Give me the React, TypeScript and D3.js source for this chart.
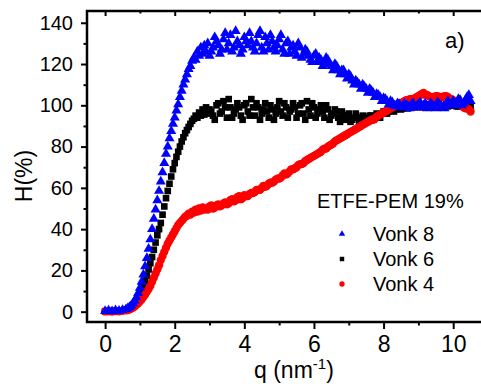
import React, { useRef, useEffect } from 'react';
import * as d3 from 'd3';

// q sampling (nm^-1), denser where the curves climb
const qGrid = [
  0, 0.1, 0.2, 0.3, 0.4, 0.5, 0.6,
  0.65, 0.7, 0.75, 0.8, 0.85, 0.9, 0.95, 1.0, 1.05, 1.1, 1.15, 1.2, 1.25, 1.3, 1.35, 1.4,
  1.45, 1.5, 1.55, 1.6, 1.65, 1.7, 1.75, 1.8, 1.85, 1.9, 1.95, 2.0, 2.05, 2.1, 2.15, 2.2,
  2.25, 2.3, 2.35, 2.4, 2.45, 2.5, 2.55, 2.6, 2.65, 2.7, 2.75, 2.8, 2.85, 2.9, 2.95, 3.0,
  3.1, 3.2, 3.3, 3.4, 3.5, 3.6, 3.7, 3.8, 3.9, 4.0,
  4.1, 4.2, 4.3, 4.4, 4.5, 4.6, 4.7, 4.8, 4.9, 5.0,
  5.1, 5.2, 5.3, 5.4, 5.5, 5.6, 5.7, 5.8, 5.9, 6.0,
  6.1, 6.2, 6.3, 6.4, 6.5, 6.6, 6.7, 6.8, 6.9, 7.0,
  7.1, 7.2, 7.3, 7.4, 7.5, 7.6, 7.7, 7.8, 7.9, 8.0,
  8.1, 8.2, 8.3, 8.4, 8.5, 8.6, 8.7, 8.8, 8.9, 9.0,
  9.1, 9.2, 9.3, 9.4, 9.5, 9.6, 9.7, 9.8, 9.9, 10.0,
  10.1, 10.2, 10.3, 10.4, 10.5
];

// extra readings between the 0.1 steps, plateau region
const qMid = [
  3.05, 3.15, 3.25, 3.35, 3.45, 3.55, 3.65, 3.75, 3.85, 3.95,
  4.05, 4.15, 4.25, 4.35, 4.45, 4.55, 4.65, 4.75, 4.85, 4.95,
  5.05, 5.15, 5.25, 5.35, 5.45, 5.55, 5.65, 5.75, 5.85, 5.95,
  6.05, 6.15, 6.25, 6.35, 6.45, 6.55, 6.65, 6.75, 6.85, 6.95,
  7.05, 7.15, 7.25, 7.35, 7.45, 7.55, 7.65, 7.75, 7.85, 7.95,
  8.05, 8.15, 8.25, 8.35, 8.45, 8.55, 8.65, 8.75, 8.85, 8.95,
  9.05, 9.15, 9.25, 9.35, 9.45, 9.55, 9.65, 9.75, 9.85, 9.95,
  10.05, 10.15, 10.25, 10.35, 10.45
];

// H (%) per series
const vonk8 = [
  0.3, 0.5, 0.2, 0.6, 0.4, 0.8, 1.2,
  1.6, 2.2, 3.0, 4.0, 5.3, 7.0, 9.0, 11.5, 14.5, 18, 22, 26, 30.5, 35, 40, 45,
  49.5, 54, 58.5, 63, 67.5, 72, 76.5, 80, 84, 87.5, 91, 94, 97.5, 100.5, 104, 107,
  110, 112.5, 115, 117.5, 119, 121.5, 123, 122, 126, 124, 128, 125, 129, 126, 130, 124,
  128, 131, 125, 132, 127, 134, 128, 131, 125, 133,
  129, 131, 126, 134, 128, 133, 127, 131, 126, 132,
  127, 130, 125, 129, 124, 128, 125, 126, 122, 124,
  121, 122, 121, 122, 119, 120, 117, 117, 115, 115,
  112, 112, 110, 110, 108, 108, 106, 105.5, 104, 103.5,
  102, 102, 100, 101, 99, 101, 99.5, 100.5, 99, 100.5,
  99, 101, 99.5, 100, 98.5, 100.5, 99, 101, 100, 102,
  100, 102.5, 101, 104, 102
];
const vonk8Mid = [
  126, 133, 129, 127, 135, 130, 126, 136, 129, 127,
  131, 135, 128, 130, 136, 126, 130, 134, 128, 129,
  134, 125, 131, 128, 126, 130, 123, 127, 124, 121,
  125, 123, 119, 123, 120, 117, 119, 115, 117, 113,
  114, 110, 111, 108, 109, 106, 107, 104, 105, 102,
  103, 100.5, 101.5, 99.5, 100.5, 99.5, 100, 98.5, 101, 99.5,
  101.5, 100, 98.5, 101, 99.5, 101.5, 100, 98.5, 102, 100,
  101, 103, 100, 102.5, 105
];

const vonk6 = [
  0.2, 0.4, 0.1, 0.5, 0.3, 0.6, 0.9,
  1.0, 1.5, 2.2, 3.0, 4.0, 5.2, 6.6, 8.3, 10.3, 12.5, 15, 17.5, 20.5, 23.5, 26.5, 30,
  33.5, 37, 40, 43, 47, 51, 55, 58.5, 62, 65.5, 69, 72, 75, 77.5, 80, 82.5,
  84.5, 86.5, 88, 89.5, 91, 92.5, 93.5, 95, 94, 96.5, 95, 98, 95.5, 99, 96, 98,
  95, 100, 96, 102, 94, 99, 96, 101, 95, 100,
  97, 103, 95, 99, 96, 101, 94, 98, 96, 102,
  95, 99, 97, 101, 94, 100, 96, 102, 95, 99,
  96, 100, 94, 98, 95, 98, 94, 97, 93, 96,
  93, 96, 92, 95, 93, 95, 93, 96, 94, 97,
  96, 98, 97, 99, 98, 99.5, 98.5, 100, 99, 100,
  99, 100.5, 99.5, 100, 99, 100, 99.5, 100.5, 100, 100.5,
  99.5, 100, 99.5, 100, 99.5
];
const vonk6Mid = [
  97, 93, 101, 97, 99, 103, 94, 98, 99, 93,
  101, 95, 99, 101, 93, 98, 97, 100, 93, 99,
  97, 101, 94, 98, 99, 96, 101, 93, 98, 101,
  94, 98, 97, 100, 93, 96, 97, 92, 95, 95,
  92, 94, 94, 91, 94, 92, 95, 94, 95, 96,
  97, 97, 98, 98, 99, 98.5, 99.5, 99, 99.5, 100,
  99.5, 100, 99, 100.5, 99.5, 100, 99, 100, 99.5, 100,
  100, 99.5, 100.5, 99.5, 100
];

const vonk4 = [
  0.1, 0.2, 0.0, 0.3, 0.2, 0.4, 0.6,
  0.8, 1.1, 1.5, 2.0, 2.6, 3.3, 4.1, 5.0, 6.0, 7.1, 8.3, 9.6, 11.0, 12.5, 14.5, 16.5,
  18.5, 20.5, 22.5, 25, 27, 29, 31, 33, 34.5, 36, 37.5, 39, 40.5, 42, 43, 44,
  45, 46, 46.5, 47.5, 47, 48.5, 48, 49.5, 48.5, 50, 49, 50.5, 49.5, 50, 49.5, 51,
  50, 51.5, 51, 52.5, 52, 54, 53.5, 55.5, 54.5, 56.5,
  56, 57.5, 58, 59, 60, 60.5, 62, 62.5, 64, 64.5,
  66, 66.5, 68, 69, 70, 71.5, 72, 73.5, 74.5, 75.5,
  76.5, 77.5, 79, 80, 81, 82.5, 83.5, 84.5, 85.5, 86.5,
  87.5, 88.5, 89.5, 90.5, 91.5, 92.5, 93, 94.5, 95.5, 96.5,
  97.5, 98.5, 99.5, 100.5, 101, 102, 102.5, 103, 103.5, 104.5,
  105.5, 105, 104.5, 104, 104.5, 103.5, 104, 104.5, 103, 102.5,
  101.5, 100.5, 99, 98.5, 97
];
const vonk4Mid = [
  51.5, 50.5, 52, 51.5, 53, 52.5, 54.5, 54, 56, 55,
  56, 57, 57.5, 59, 59, 61, 61, 62.5, 63, 64.5,
  65, 67, 67, 69, 69.5, 71, 71.5, 73, 74, 75,
  76, 77, 78.5, 79, 80.5, 81.5, 83, 84, 85, 86,
  87, 88, 89, 90, 91, 92, 93, 93.5, 95, 96,
  97, 98, 99, 100, 101, 101.5, 102.5, 103, 103, 104,
  105, 106, 105, 104, 103.5, 104.5, 104, 104.5, 104, 103,
  102, 101, 100, 98.5, 98
];

const yTicks = [0, 20, 40, 60, 80, 100, 120, 140];
const yMinor = [10, 30, 50, 70, 90, 110, 130];
const xTicks = [0, 2, 4, 6, 8, 10];
const xMinor = [1, 3, 5, 7, 9];
const legendTitle = 'ETFE-PEM 19%';

const FONT = '"Liberation Sans", Arial, sans-serif';

export default function App() {
  const svgRef = useRef(null);

  useEffect(() => {
    const svg = d3.select(svgRef.current);
    svg.selectAll('*').remove();

    const left = 87, top = 11, bottom = 322, right = 488;
    const x = d3.scaleLinear().domain([-0.52, 11]).range([left, right]);
    const y = d3.scaleLinear().domain([-5, 145.7]).range([bottom, top]);

    const series = [
      { name: 'Vonk 6', values: vonk6, mid: vonk6Mid, color: '#000000', symbol: d3.symbolSquare, size: 44, legendSize: 20 },
      { name: 'Vonk 4', values: vonk4, mid: vonk4Mid, color: '#ff0000', symbol: d3.symbolCircle, size: 54, legendSize: 22 },
      { name: 'Vonk 8', values: vonk8, mid: vonk8Mid, color: '#0000ff', symbol: d3.symbolTriangle, size: 44, legendSize: 18 }
    ];

    // data
    series.forEach(s => {
      const pts = d3.zip(qGrid, s.values).concat(d3.zip(qMid, s.mid));
      svg.append('g')
        .selectAll('path')
        .data(pts)
        .join('path')
        .attr('transform', d => `translate(${x(d[0])},${y(d[1])})`)
        .attr('d', d3.symbol(s.symbol, s.size))
        .attr('fill', s.color);
    });

    // frame
    svg.append('rect')
      .attr('x', left).attr('y', top)
      .attr('width', right - left).attr('height', bottom - top)
      .attr('fill', 'none').attr('stroke', '#000').attr('stroke-width', 2.5);

    const styleAxis = (g, fontSize) => {
      g.select('.domain').remove();
      g.selectAll('line').attr('stroke-width', 2);
      g.selectAll('text').attr('font-size', fontSize).attr('font-family', FONT).attr('fill', '#000');
    };

    // y axis
    svg.append('g').attr('transform', `translate(${left},0)`)
      .call(d3.axisLeft(y).tickValues(yTicks).tickSize(6).tickPadding(8))
      .call(g => styleAxis(g, 20));
    svg.append('g').attr('transform', `translate(${left},0)`)
      .call(d3.axisLeft(y).tickValues(yMinor).tickSize(3.5).tickFormat(() => ''))
      .call(g => styleAxis(g, 20));

    // x axis
    svg.append('g').attr('transform', `translate(0,${bottom})`)
      .call(d3.axisBottom(x).tickValues(xTicks).tickSize(7).tickPadding(7))
      .call(g => styleAxis(g, 23));
    svg.append('g').attr('transform', `translate(0,${bottom})`)
      .call(d3.axisBottom(x).tickValues(xMinor).tickSize(3.5).tickFormat(() => ''))
      .call(g => styleAxis(g, 23));

    // top ticks, pointing inward
    svg.append('g').attr('transform', `translate(0,${top})`)
      .call(d3.axisBottom(x).tickValues(xTicks).tickSize(5).tickFormat(() => ''))
      .call(g => styleAxis(g, 10));
    svg.append('g').attr('transform', `translate(0,${top})`)
      .call(d3.axisBottom(x).tickValues(xMinor).tickSize(2.5).tickFormat(() => ''))
      .call(g => styleAxis(g, 10));

    // axis labels
    const xl = svg.append('text')
      .attr('x', 254).attr('y', 378)
      .attr('font-family', FONT).attr('font-size', 23);
    xl.append('tspan').text('q (nm');
    xl.append('tspan').attr('font-size', 15).attr('dy', -9).text('-1');
    xl.append('tspan').attr('dy', 9).text(')');

    svg.append('text')
      .attr('transform', 'translate(32,176) rotate(-90)')
      .attr('text-anchor', 'middle')
      .attr('font-family', FONT).attr('font-size', 23)
      .text('H(%)');

    svg.append('text')
      .attr('x', 445).attr('y', 48)
      .attr('font-family', FONT).attr('font-size', 22)
      .text('a)');

    // legend
    svg.append('text')
      .attr('x', 317).attr('y', 208)
      .attr('font-family', FONT).attr('font-size', 20)
      .text(legendTitle);

    const legendOrder = ['Vonk 8', 'Vonk 6', 'Vonk 4'];
    legendOrder.forEach((name, i) => {
      const s = series.find(d => d.name === name);
      const cy = 234 + i * 25;
      svg.append('path')
        .attr('transform', `translate(342,${cy})`)
        .attr('d', d3.symbol(s.symbol, s.legendSize))
        .attr('fill', s.color);
      svg.append('text')
        .attr('x', 373).attr('y', cy + 7)
        .attr('font-family', FONT).attr('font-size', 20)
        .text(s.name);
    });
  }, []);

  return (
    <svg
      ref={svgRef}
      width={481}
      height={384}
      style={{ position: 'absolute', left: 0, top: 0, background: '#fff' }}
    ></svg>
  );
}
